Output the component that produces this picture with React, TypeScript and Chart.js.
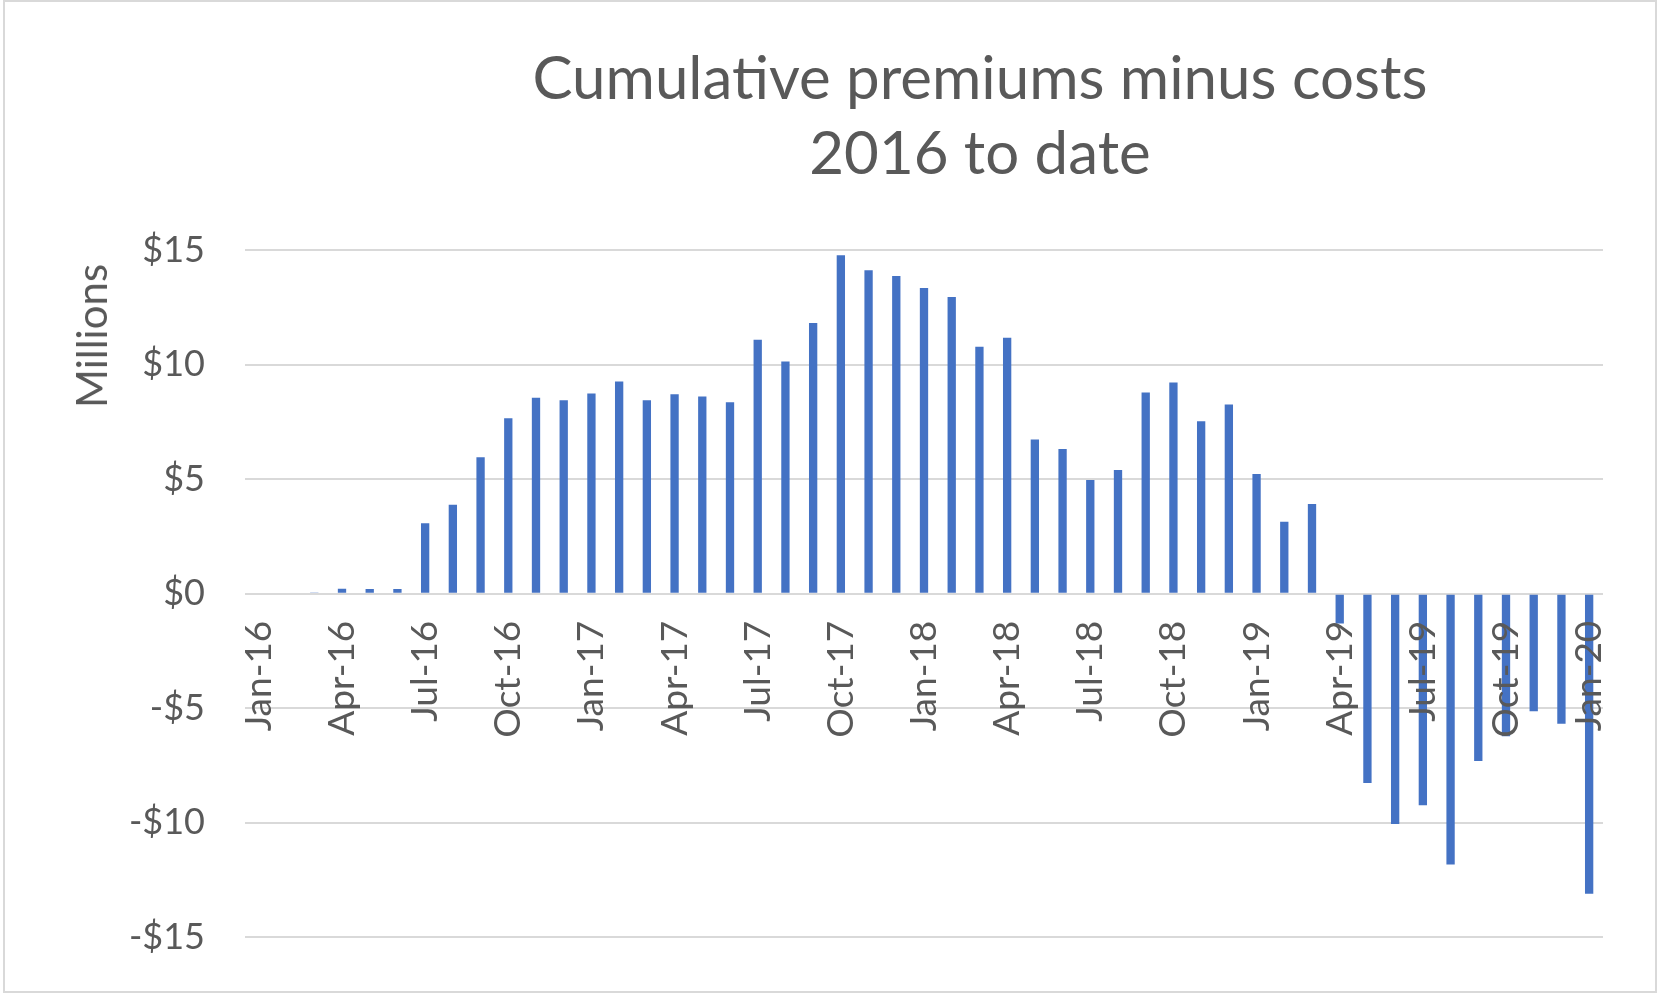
import React, { useEffect, useRef } from "react";
import { Chart, registerables } from "chart.js";

Chart.register(...registerables);

const months: string[] = [
  "Jan-16", "Feb-16", "Mar-16", "Apr-16", "May-16", "Jun-16", "Jul-16", "Aug-16", "Sep-16", "Oct-16", "Nov-16", "Dec-16",
  "Jan-17", "Feb-17", "Mar-17", "Apr-17", "May-17", "Jun-17", "Jul-17", "Aug-17", "Sep-17", "Oct-17", "Nov-17", "Dec-17",
  "Jan-18", "Feb-18", "Mar-18", "Apr-18", "May-18", "Jun-18", "Jul-18", "Aug-18", "Sep-18", "Oct-18", "Nov-18", "Dec-18",
  "Jan-19", "Feb-19", "Mar-19", "Apr-19", "May-19", "Jun-19", "Jul-19", "Aug-19", "Sep-19", "Oct-19", "Nov-19", "Dec-19",
  "Jan-20",
];

const netMillions: number[] = [
  0, 0, 0.05, 0.22, 0.2, 0.2, 3.08, 3.88, 5.95, 7.66, 8.55, 8.44,
  8.74, 9.26, 8.44, 8.7, 8.61, 8.35, 11.08, 10.13, 11.81, 14.77, 14.12, 13.86,
  13.34, 12.95, 10.78, 11.17, 6.73, 6.31, 4.96, 5.4, 8.78, 9.22, 7.53, 8.26,
  5.22, 3.14, 3.92, -1.3, -8.26, -10.05, -9.23, -11.82, -7.3, -6.22, -5.13, -5.68,
  -13.09,
];

const titleLines: string[] = ["Cumulative premiums minus costs", "2016 to date"];
const unitLabel = "Millions";
const yMin = -15;
const yMax = 15;
const yStep = 5;

const FONT = "Lato, 'Open Sans', sans-serif";
const TEXT = "#595959";
const GRID = "#d9d9d9";
const BAR = "#4472C4";

export default function App() {
  const canvasRef = useRef<HTMLCanvasElement | null>(null);

  useEffect(() => {
    if (!canvasRef.current) return;
    const chart = new Chart(canvasRef.current, {
      type: "bar",
      data: {
        labels: months,
        datasets: [
          {
            label: "Cumulative premiums minus costs",
            data: netMillions,
            backgroundColor: BAR,
            borderWidth: 0,
            barPercentage: 0.3,
            categoryPercentage: 1,
          },
        ],
      },
      options: {
        animation: false,
        responsive: true,
        maintainAspectRatio: false,
        layout: { padding: { top: 250, bottom: 58, left: 95, right: 60 } },
        plugins: {
          legend: { display: false },
          title: { display: false },
          tooltip: { enabled: false },
        },
        scales: {
          x: {
            position: { y: 0 } as any,
            offset: true,
            grid: { display: false, drawTicks: false },
            border: { display: false },
            ticks: {
              autoSkip: false,
              minRotation: 90,
              maxRotation: 90,
              padding: 27,
              color: TEXT,
              font: { family: FONT, size: 37 },
              z: 1,
              callback: (_v: any, i: number) => (i % 3 === 0 ? months[i] : ""),
            },
          },
          y: {
            min: yMin,
            max: yMax,
            afterFit: (scale: any) => {
              scale.width = 150;
            },
            grid: { color: GRID, lineWidth: 2, drawTicks: false },
            border: { display: false },
            ticks: {
              stepSize: yStep,
              padding: 40,
              color: TEXT,
              font: { family: FONT, size: 36 },
              callback: (v: any) => {
                const n = Number(v);
                return n < 0 ? `-$${-n}` : `$${n}`;
              },
            },
          },
        },
      },
    });
    return () => chart.destroy();
  }, []);

  return (
    <div
      style={{
        position: "absolute",
        left: 0,
        top: 0,
        width: 1663,
        height: 999,
        background: "#ffffff",
        overflow: "hidden",
        fontFamily: FONT,
      }}
    >
      <div
        style={{
          position: "absolute",
          left: 3,
          top: 0,
          width: 1650,
          height: 989,
          border: `2px solid ${GRID}`,
        }}
      />
      <canvas
        ref={canvasRef}
        style={{ position: "absolute", left: 0, top: 0, width: 1663, height: 999 }}
      />
      <div
        style={{
          position: "absolute",
          left: 480,
          top: 39,
          width: 1000,
          textAlign: "center",
          color: TEXT,
          fontSize: 60,
          lineHeight: "75px",
          whiteSpace: "nowrap",
        }}
      >
        {titleLines.map((t) => (
          <div key={t}>{t}</div>
        ))}
      </div>
      <div
        style={{
          position: "absolute",
          left: 91,
          top: 336,
          transform: "translate(-50%, -50%) rotate(-90deg)",
          color: TEXT,
          fontSize: 42,
          whiteSpace: "nowrap",
        }}
      >
        {unitLabel}
      </div>
    </div>
  );
}
